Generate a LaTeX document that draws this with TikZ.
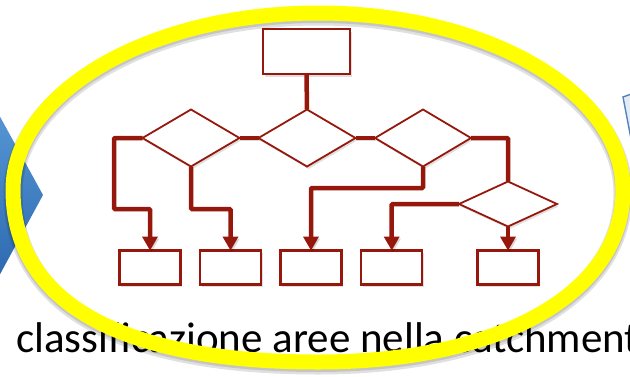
\documentclass[tikz,border=0pt]{standalone}
\usepackage{fontspec}
\setmainfont{Carlito}
\usetikzlibrary{shapes.geometric,arrows.meta,shadows}
\definecolor{fcred}{RGB}{150,24,12}
\definecolor{hlyellow}{RGB}{255,255,0}
\definecolor{chevtop}{RGB}{85,150,212}
\definecolor{chevbot}{RGB}{45,105,175}
\definecolor{boxblue}{RGB}{80,130,190}
\definecolor{boxfill}{RGB}{228,236,242}
\newcommand\hlringpath{(13,190) .. controls (13,92) and (150,13) .. (318,13)
  .. controls (487,13) and (623,92) .. (623,190)
  .. controls (623,293) and (501,362) .. (318,362)
  .. controls (120,362) and (13,302) .. (13,190) -- cycle}
\begin{document}
\begin{tikzpicture}[x=1pt,y=-1pt,
  shad/.style={drop shadow={opacity=0.25,shadow xshift=1.5pt,shadow yshift=-2.5pt}},
  box/.style={rectangle,draw=fcred,line width=2.2pt,fill=white,inner sep=0pt,outer sep=0pt,
              minimum width=61pt,minimum height=34pt,shad},
  dia/.style={diamond,draw=fcred,line width=1.8pt,fill=white,inner sep=0pt,outer sep=0pt,shad},
  conn/.style={draw=fcred,line width=4.5pt,rounded corners=1pt,
               preaction={draw=black,opacity=0.15,transform canvas={shift={(1.2pt,-2pt)}}}},
  arr/.style={conn,-{Triangle[width=15pt,length=14pt]}},
  ring/.style={draw=hlyellow,line width=15pt},
  ringshadow/.style={draw=black,opacity=0.12}]
\useasboundingbox (0,0) rectangle (630,376);
% left blue chevron
\shade[top color=chevtop,bottom color=chevbot] (-2,113) -- (43,195) -- (-2,278) -- cycle;
% right partial blue-outlined shape
\draw[draw=boxblue,fill=boxfill,line width=1.4pt] (623,97) -- (634,93) -- (642,140) -- (632,144) -- cycle;
% caption
\node[anchor=base west,inner sep=0pt,font=\fontsize{43}{50}\selectfont] (cap) at (16,352) {classificazione aree nella catchment};
% flowchart nodes
\node[box,minimum width=87pt,minimum height=45pt] (T) at (306.5,51.5) {};
\node[dia,minimum width=97pt,minimum height=57pt] (D1) at (191,138) {};
\node[dia,minimum width=97pt,minimum height=57pt] (D2) at (307,138) {};
\node[dia,minimum width=96pt,minimum height=57pt] (D3) at (423,138) {};
\node[dia,minimum width=98pt,minimum height=45pt] (D4) at (508,204) {};
\node[box] (R1) at (150,267.5) {};
\node[box] (R2) at (230.5,267.5) {};
\node[box] (R3) at (311,267.5) {};
\node[box] (R4) at (391.7,267.5) {};
\node[box] (R5) at (508,267.5) {};
% connectors
\draw[conn] (T.south) -- (D2.north);
\draw[conn] (D1.east) -- (D2.west);
\draw[conn] (D2.east) -- (D3.west);
\draw[arr] (D1.west) -| (114,209) -| (R1.north);
\draw[arr] (D1.south) |- (230.5,209) -- (R2.north);
\draw[arr] (D3.south) |- (311,188) -- (R3.north);
\draw[conn] (D3.east) -| (D4.north);
\draw[arr] (D4.west) -| (R4.north);
\draw[arr] (D4.south) -- (R5.north);
% yellow highlight ring with soft shadow
\draw[ringshadow,line width=19pt,yshift=-3pt] \hlringpath;
\draw[ringshadow,line width=16pt,yshift=-2pt] \hlringpath;
\draw[ring] \hlringpath;
\end{tikzpicture}
\end{document}
